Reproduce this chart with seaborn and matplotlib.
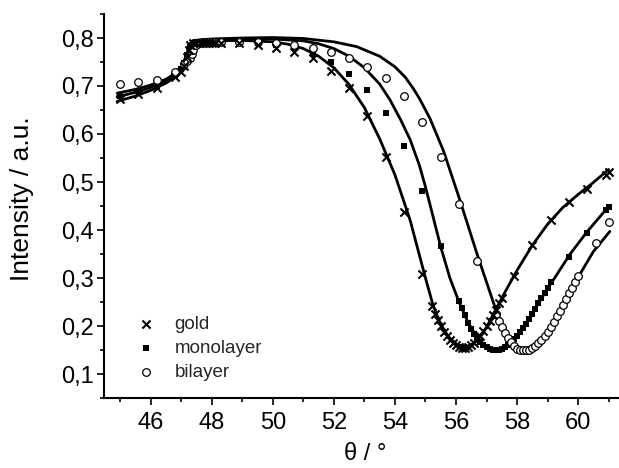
import matplotlib
matplotlib.use("Agg")
import matplotlib.pyplot as plt
import seaborn as sns
from matplotlib.ticker import MultipleLocator, FuncFormatter

# ---------------- data ----------------
gold_x = [45.0, 45.6, 46.2, 46.8, 47.0, 47.1, 47.2, 47.25, 47.3, 47.4, 47.5, 47.6, 47.7, 47.8,
          47.9, 48.0, 48.1, 48.3, 48.9, 49.5, 50.1, 50.7, 51.3, 51.9, 52.5, 53.1, 53.7, 54.3,
          54.9, 55.2, 55.3, 55.4, 55.5, 55.6, 55.7, 55.8, 55.9, 56.0, 56.1, 56.2, 56.3, 56.4,
          56.5, 56.6, 56.7, 56.8, 56.9, 57.0, 57.1, 57.2, 57.3, 57.4, 57.5, 57.9, 58.5, 59.1,
          59.7, 60.3, 60.9, 61.0]
gold_y = [0.672, 0.683, 0.695, 0.718, 0.730, 0.742, 0.760, 0.775, 0.785, 0.789, 0.790, 0.790,
          0.790, 0.790, 0.790, 0.790, 0.790, 0.790, 0.789, 0.785, 0.780, 0.771, 0.758, 0.732,
          0.695, 0.638, 0.553, 0.438, 0.309, 0.241, 0.226, 0.212, 0.199, 0.188, 0.179, 0.171,
          0.165, 0.160, 0.157, 0.155, 0.155, 0.157, 0.160, 0.165, 0.172, 0.180, 0.189, 0.199,
          0.210, 0.222, 0.234, 0.247, 0.259, 0.304, 0.369, 0.421, 0.458, 0.485, 0.515, 0.520]

mono_x = [45.0, 45.6, 46.2, 46.8, 47.0, 47.1, 47.2, 47.3, 47.4, 47.5, 47.6, 47.7, 47.8, 47.9,
          48.0, 48.1, 48.3, 48.9, 49.5, 50.1, 50.7, 51.3, 51.9, 52.5, 53.1, 53.7, 54.3, 54.9,
          55.5, 56.1, 56.2, 56.3, 56.4, 56.5, 56.6, 56.7, 56.8, 56.9, 57.0, 57.1, 57.2, 57.3,
          57.4, 57.5, 57.6, 57.7, 57.8, 57.9, 58.0, 58.1, 58.2, 58.3, 58.4, 58.5, 58.6, 58.7,
          58.8, 58.9, 59.0, 59.1, 59.7, 60.3, 60.9, 61.0]
mono_y = [0.680, 0.689, 0.700, 0.722, 0.735, 0.748, 0.765, 0.782, 0.789, 0.791, 0.791, 0.791,
          0.791, 0.791, 0.791, 0.791, 0.792, 0.791, 0.789, 0.786, 0.779, 0.766, 0.749, 0.724,
          0.692, 0.644, 0.575, 0.481, 0.366, 0.253, 0.238, 0.222, 0.207, 0.194, 0.183, 0.174,
          0.166, 0.160, 0.156, 0.152, 0.150, 0.150, 0.151, 0.153, 0.157, 0.161, 0.166, 0.172,
          0.179, 0.187, 0.196, 0.205, 0.215, 0.225, 0.236, 0.247, 0.258, 0.269, 0.280, 0.291,
          0.344, 0.393, 0.441, 0.448]

bi_x = [45.0, 45.6, 46.2, 46.8, 47.1, 47.2, 47.3, 47.35, 47.4, 47.5, 47.6, 47.7, 47.8, 47.9,
        48.0, 48.1, 48.3, 48.9, 49.5, 50.1, 50.7, 51.3, 51.9, 52.5, 53.1, 53.7, 54.3, 54.9,
        55.5, 56.1, 56.7, 57.3, 57.4, 57.5, 57.6, 57.7, 57.8, 57.9, 58.0, 58.1, 58.2, 58.3,
        58.4, 58.5, 58.6, 58.7, 58.8, 58.9, 59.0, 59.1, 59.2, 59.3, 59.4, 59.5, 59.6, 59.7,
        59.8, 59.9, 60.0, 60.6, 61.0]
bi_y = [0.704, 0.708, 0.712, 0.729, 0.745, 0.752, 0.758, 0.766, 0.776, 0.786, 0.790, 0.791,
        0.791, 0.791, 0.792, 0.792, 0.792, 0.792, 0.791, 0.789, 0.786, 0.779, 0.770, 0.758,
        0.740, 0.716, 0.679, 0.625, 0.552, 0.454, 0.336, 0.226, 0.211, 0.198, 0.186, 0.175,
        0.166, 0.158, 0.153, 0.150, 0.149, 0.149, 0.151, 0.154, 0.158, 0.164, 0.171, 0.179,
        0.188, 0.198, 0.209, 0.220, 0.232, 0.244, 0.256, 0.268, 0.280, 0.292, 0.305, 0.372,
        0.417]

# fitted curves
gold_fit_x = [44.9, 45.5, 46.0, 46.5, 46.8, 47.0, 47.1, 47.2, 47.25, 47.3, 47.4, 47.6, 48.0,
              49.0, 50.0, 50.5, 51.0, 51.5, 52.0, 52.5, 53.0, 53.5, 54.0, 54.5, 55.0, 55.25,
              55.5, 55.75, 56.0, 56.25, 56.5, 56.75, 57.0, 57.3, 57.6, 58.0, 58.5, 59.0, 59.5,
              60.0, 60.5, 61.0]
gold_fit_y = [0.668, 0.679, 0.691, 0.706, 0.719, 0.732, 0.744, 0.764, 0.778, 0.787, 0.791,
              0.793, 0.794, 0.795, 0.792, 0.787, 0.778, 0.762, 0.738, 0.703, 0.655, 0.590,
              0.515, 0.420, 0.300, 0.243, 0.203, 0.178, 0.163, 0.156, 0.160, 0.174, 0.197,
              0.233, 0.270, 0.316, 0.368, 0.412, 0.447, 0.474, 0.499, 0.526]

mono_fit_x = [44.9, 45.5, 46.0, 46.5, 46.8, 47.0, 47.1, 47.2, 47.25, 47.3, 47.4, 47.6, 48.0,
              49.0, 50.0, 51.0, 51.5, 52.0, 52.5, 53.0, 53.5, 53.84, 54.2, 54.5, 54.8, 55.0,
              55.5, 55.8, 56.1, 56.4, 56.7, 57.0, 57.28, 57.5, 57.8, 58.0, 58.5, 59.0, 59.2,
              59.74, 60.29, 61.0]
mono_fit_y = [0.677, 0.687, 0.697, 0.711, 0.724, 0.737, 0.750, 0.768, 0.780, 0.788, 0.792,
              0.794, 0.796, 0.798, 0.798, 0.794, 0.788, 0.778, 0.762, 0.738, 0.704, 0.671,
              0.628, 0.588, 0.535, 0.490, 0.365, 0.300, 0.250, 0.207, 0.175, 0.157, 0.150,
              0.153, 0.166, 0.180, 0.226, 0.278, 0.297, 0.350, 0.396, 0.449]

bi_fit_x = [44.9, 45.5, 46.0, 46.5, 46.8, 47.0, 47.1, 47.2, 47.25, 47.3, 47.4, 47.6, 48.0,
            49.0, 50.0, 51.0, 52.0, 52.75, 53.5, 54.0, 54.33, 54.6, 54.82, 55.15, 55.59,
            56.13, 56.68, 57.23, 57.5, 57.8, 58.0, 58.3, 58.6, 58.9, 59.2, 59.5, 59.8, 60.06,
            60.5, 61.04]
bi_fit_y = [0.685, 0.693, 0.702, 0.714, 0.726, 0.739, 0.752, 0.770, 0.781, 0.789, 0.794,
            0.796, 0.798, 0.800, 0.801, 0.799, 0.792, 0.782, 0.762, 0.740, 0.719, 0.695,
            0.672, 0.632, 0.565, 0.462, 0.352, 0.248, 0.205, 0.170, 0.157, 0.148, 0.154,
            0.172, 0.203, 0.238, 0.274, 0.308, 0.355, 0.397]

labels = ["gold", "monolayer", "bilayer"]
x_label = "θ / °"
y_label = "Intensity / a.u."

# ---------------- plotting ----------------
sns.set_style("ticks")
plt.rcParams['font.family'] = ['Liberation Sans', 'DejaVu Sans']

fig = plt.figure(figsize=(6.19, 4.68), dpi=100)
ax = fig.add_axes([104 / 619, 70 / 468, 515 / 619, 384 / 468])

for fx, fy in [(gold_fit_x, gold_fit_y), (mono_fit_x, mono_fit_y), (bi_fit_x, bi_fit_y)]:
    sns.lineplot(x=fx, y=fy, ax=ax, color='black', linewidth=2.0, sort=False,
                 estimator=None, zorder=2)

sns.scatterplot(x=gold_x, y=gold_y, ax=ax, marker='x', color='black', s=34,
                linewidth=1.5, label=labels[0], zorder=4)
sns.scatterplot(x=mono_x, y=mono_y, ax=ax, marker='s', color='black', s=16,
                linewidth=0, label=labels[1], zorder=3)
sns.scatterplot(x=bi_x, y=bi_y, ax=ax, marker='o', facecolor='white',
                edgecolor='black', s=30, linewidth=0.9, label=labels[2], zorder=3)

ax.set_xlim(44.47, 61.34)
ax.set_ylim(0.05, 0.85)
ax.xaxis.set_major_locator(MultipleLocator(2))
ax.xaxis.set_minor_locator(MultipleLocator(1))
ax.yaxis.set_major_locator(MultipleLocator(0.1))
ax.yaxis.set_minor_locator(MultipleLocator(0.05))
ax.yaxis.set_major_formatter(FuncFormatter(lambda v, p: f"{v:.1f}".replace('.', ',')))

for side in ['top', 'right']:
    ax.spines[side].set_visible(False)
for side in ['left', 'bottom']:
    ax.spines[side].set_linewidth(1.5)
    ax.spines[side].set_color('black')

ax.tick_params(axis='both', which='major', direction='out', length=5, width=1.2,
               labelsize=17, colors='black')
ax.tick_params(axis='both', which='minor', direction='out', length=3, width=1.2,
               colors='black')
ax.tick_params(axis='x', which='major', pad=5)
ax.tick_params(axis='y', which='major', pad=2)

ax.set_xlabel(x_label, fontsize=17, color='black')
ax.set_ylabel(y_label, fontsize=19, color='black')
ax.xaxis.set_label_coords((365 - 104) / 515, -(443 - 398) / 384)
ax.yaxis.set_label_coords(-(104 - 34) / 515, 0.52)

handles, lbls = ax.get_legend_handles_labels()
ax.legend(handles, lbls, loc='upper left', bbox_to_anchor=(137 / 619, 1 - 316 / 468),
          bbox_transform=fig.transFigure, frameon=False, fontsize=13.5,
          handlelength=1.0, handletextpad=1.0, labelspacing=0.36, borderpad=0,
          borderaxespad=0)

fig.savefig("out.png", dpi=100)
